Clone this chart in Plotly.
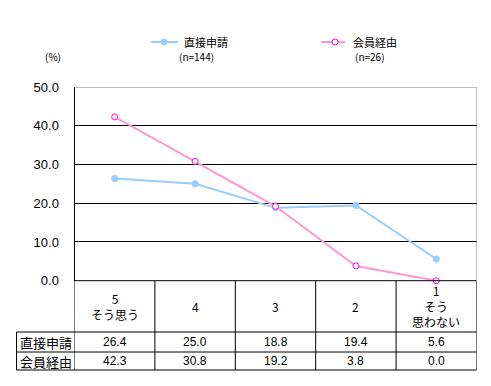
import plotly.graph_objects as go

categories = ["5<br>そう思う", "4", "3", "2", "1<br>そう<br>思わない"]
series_names = ["直接申請", "会員経由"]
series_n = ["(n=144)", "(n=26)"]
direct = [26.4, 25.0, 18.8, 19.4, 5.6]
member = [42.3, 30.8, 19.2, 3.8, 0.0]
y_ticks = [0, 10, 20, 30, 40, 50]

W, H = 491, 386
def px(x):
    return x / W
def py(y):
    return 1 - y / H

JP = "Noto Sans CJK JP"
NUM = "Liberation Sans"
BLUE = "#99CCFF"
PINK = "#FF99CC"
MAG = "#FF00FF"

xs = [i + 0.5 for i in range(len(categories))]

fig = go.Figure()
fig.add_trace(go.Scatter(x=xs, y=direct, mode="lines+markers", name=series_names[0],
                         line=dict(color=BLUE, width=2),
                         marker=dict(color=BLUE, size=7, symbol="circle"), cliponaxis=False))
fig.add_trace(go.Scatter(x=xs, y=member, mode="lines+markers", name=series_names[1],
                         line=dict(color=PINK, width=2),
                         marker=dict(color="white", size=6, symbol="circle",
                                     line=dict(color=MAG, width=1)), cliponaxis=False))

x0p, x1p = 74.5, 476.5
ytop, ybot = 87, 280.7
fig.update_layout(
    width=W, height=H, margin=dict(l=0, r=0, t=0, b=0, autoexpand=False),
    paper_bgcolor="white", plot_bgcolor="white", showlegend=False,
    xaxis=dict(domain=[px(x0p), px(x1p)], range=[0, 5], showticklabels=False,
               showgrid=False, zeroline=False, showline=False, fixedrange=True,
               automargin=False),
    yaxis=dict(domain=[py(ybot), py(ytop)], range=[0, 50], tickvals=y_ticks,
               tickformat=".1f", showgrid=True, gridcolor="black", gridwidth=1,
               zeroline=False, showline=True, linecolor="black", linewidth=1,
               ticks="", ticklabelstandoff=12, automargin=False,
               tickfont=dict(family=NUM, size=13, color="black"), fixedrange=True),
)

shapes = []
# top and right border of plot (gray)
shapes.append(dict(type="line", xref="x", yref="y", x0=0, x1=5, y0=50, y1=50,
                   line=dict(color="#808080", width=1)))
shapes.append(dict(type="line", xref="x", yref="paper", x0=5, x1=5, y0=py(ybot), y1=py(ytop),
                   line=dict(color="#808080", width=1)))

# table
row_y = [ybot, 332, 352, 370]
tbl_left = 16.5
for i in range(len(categories) + 1):
    y_end = row_y[-1]
    shapes.append(dict(type="line", xref="x", yref="paper", x0=i, x1=i,
                       y0=py(ybot), y1=py(y_end), line=dict(color="black", width=1)))
shapes.append(dict(type="line", xref="paper", yref="paper", x0=px(tbl_left), x1=px(tbl_left),
                   y0=py(row_y[1]), y1=py(row_y[3]), line=dict(color="black", width=1)))
shapes.append(dict(type="line", xref="x", yref="paper", x0=0, x1=5, y0=py(ybot), y1=py(ybot),
                   line=dict(color="black", width=1)))
for ry in row_y[1:]:
    shapes.append(dict(type="line", xref="paper", yref="paper", x0=px(tbl_left), x1=px(x1p),
                       y0=py(ry), y1=py(ry), line=dict(color="black", width=1)))

annotations = []
for i, c in enumerate(categories):
    annotations.append(dict(xref="x", yref="paper", x=xs[i], y=py((ybot + row_y[1]) / 2),
                            xanchor="center", yanchor="middle",
                            text=c, showarrow=False, align="center",
                            font=dict(family=JP, size=12, color="black")))
for r, (name, vals) in enumerate(zip(series_names, [direct, member])):
    cy = (row_y[r + 1] + row_y[r + 2]) / 2
    annotations.append(dict(xref="paper", yref="paper", x=px((tbl_left + x0p) / 2), y=py(cy),
                            xanchor="center", yanchor="middle",
                            text=name, showarrow=False,
                            font=dict(family=JP, size=13, color="black")))
    for i, v in enumerate(vals):
        annotations.append(dict(xref="x", yref="paper", x=xs[i], y=py(cy),
                                xanchor="center", yanchor="middle",
                                text=f"{v:.1f}", showarrow=False,
                                font=dict(family=NUM, size=12, color="black")))

# legend
leg = [(151, 178, 164, 182, 196, series_names[0], series_n[0], BLUE, BLUE),
       (321, 345, 335, 351, 370, series_names[1], series_n[1], PINK, "white")]
for (lx0, lx1, mx, tx, nx, name, ntext, col, fill) in leg:
    shapes.append(dict(type="line", xref="paper", yref="paper", x0=px(lx0), x1=px(lx1),
                       y0=py(42), y1=py(42), line=dict(color=col, width=2)))
    outline = col if fill != "white" else MAG
    shapes.append(dict(type="circle", xref="paper", yref="paper",
                       x0=px(mx - 3), x1=px(mx + 3), y0=py(45), y1=py(39),
                       fillcolor=fill, line=dict(color=outline, width=1)))
    annotations.append(dict(xref="paper", yref="paper", x=px(tx), y=py(42),
                            xanchor="left", yanchor="middle",
                            text=name, showarrow=False,
                            font=dict(family=JP, size=11, color="black")))
    annotations.append(dict(xref="paper", yref="paper", x=px(nx), y=py(57),
                            xanchor="center", yanchor="middle",
                            text=ntext, showarrow=False,
                            font=dict(family=JP, size=10, color="black")))
annotations.append(dict(xref="paper", yref="paper", x=px(53), y=py(57), text="(%)",
                        xanchor="center", yanchor="middle",
                        showarrow=False, font=dict(family=JP, size=10, color="black")))

fig.update_layout(shapes=shapes, annotations=annotations)
fig.write_html("out.html", config={"displayModeBar": False},
               post_script="document.body.style.margin='0';document.body.style.padding='0';")
